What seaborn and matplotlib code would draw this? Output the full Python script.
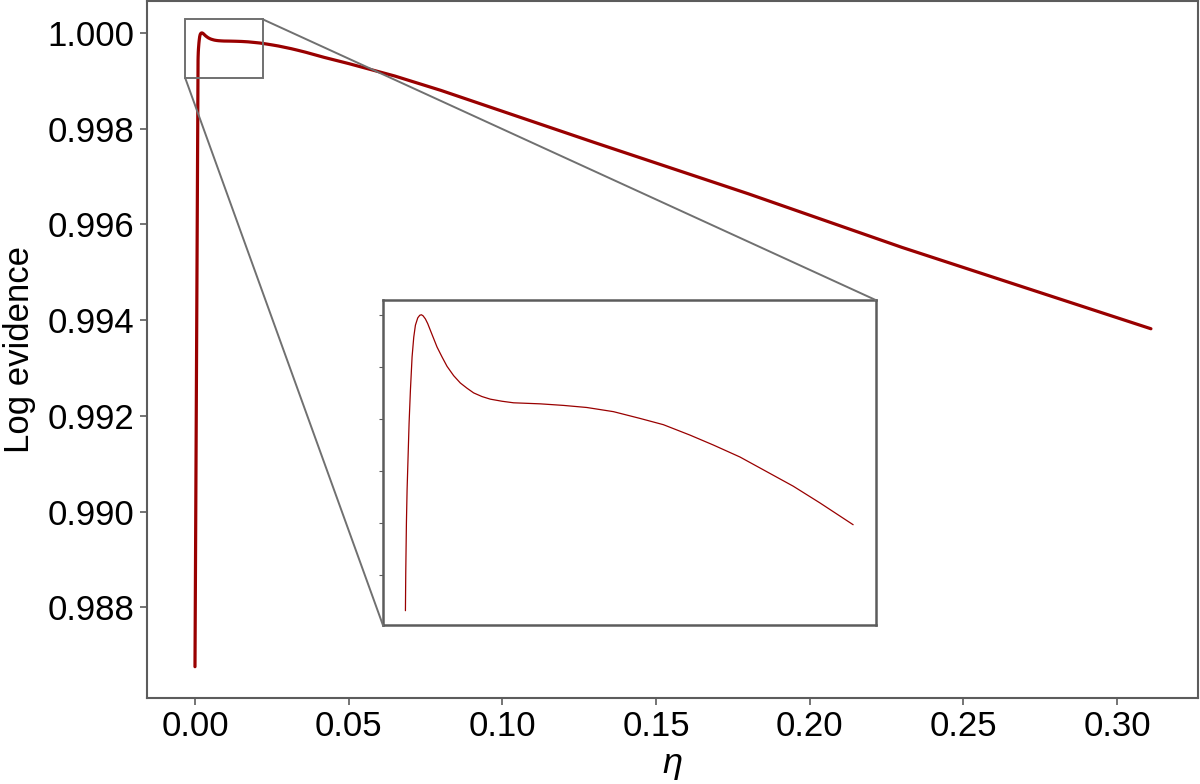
import numpy as np
import pandas as pd
import matplotlib
matplotlib.use('Agg')
import matplotlib.pyplot as plt
import seaborn as sns
from matplotlib.patches import Rectangle, ConnectionPatch
from matplotlib.ticker import MultipleLocator

# curve (dense near the peak, sparse on the straight tail)
eta = [0.0, 0.001000, 0.001026, 0.001078, 0.001130, 0.001208, 0.001286, 0.001390,
       0.001520, 0.001651, 0.001781, 0.001963, 0.002119, 0.002249, 0.002379,
       0.002561, 0.002743, 0.002952, 0.003212, 0.003472, 0.003862, 0.004253,
       0.004773, 0.005293, 0.005814, 0.006334, 0.006985, 0.007635, 0.008546,
       0.009457, 0.010497, 0.011538, 0.013360, 0.015181, 0.017263, 0.019344,
       0.021166, 0.023247, 0.025069, 0.027150, 0.029232, 0.031313, 0.033395,
       0.036000,
       0.042, 0.05, 0.065, 0.08, 0.13, 0.18, 0.23, 0.27, 0.311]
log_evidence = [0.98676, 0.999432, 0.999505, 0.999601, 0.999664, 0.999728, 0.999792, 0.999855,
                0.999919, 0.999957, 0.999980, 0.999994, 0.999999, 1.000000, 0.999998,
                0.999992, 0.999983, 0.999970, 0.999954, 0.999938, 0.999919, 0.999901,
                0.999883, 0.999869, 0.999859, 0.999850, 0.999843, 0.999838, 0.999834,
                0.999831, 0.999830, 0.999829, 0.999826, 0.999822, 0.999814, 0.999801,
                0.999789, 0.999769, 0.999750, 0.999727, 0.999699, 0.999671, 0.999639,
                0.999597,
                0.99949, 0.99936, 0.99910, 0.99880, 0.99771, 0.99664, 0.99552, 0.99468, 0.99382]

# inset shows the points up to eta = 0.036 (the very first point is left out)
inset_first, inset_last = 1, 44

# zoom box drawn on the main axes
box_x = [-0.00315, 0.0220]
box_y = [0.999054, 1.000286]

df = pd.DataFrame({'eta': eta, 'log_evidence': log_evidence})
df_inset = df.iloc[inset_first:inset_last]

sns.set_style('white')
plt.rcParams['font.family'] = ['Liberation Sans', 'DejaVu Sans']
plt.rcParams['text.color'] = 'black'
plt.rcParams['axes.labelcolor'] = 'black'

line_color = '#990000'
frame_color = '#5c5c5c'
box_color = '#707070'

fig = plt.figure(figsize=(12, 7.84), dpi=100)
ax = fig.add_axes([0.1225, 0.1097, 0.8758, 0.8887])

sns.lineplot(data=df, x='eta', y='log_evidence', ax=ax, color=line_color, linewidth=2.3,
             sort=False, estimator=None)

ax.set_xlim(-0.01561, 0.3263)
ax.set_ylim(0.986106, 1.000662)
ax.set_xticks([0.0, 0.05, 0.10, 0.15, 0.20, 0.25, 0.30])
ax.set_xticklabels(['0.00', '0.05', '0.10', '0.15', '0.20', '0.25', '0.30'])
ax.set_yticks([0.988, 0.990, 0.992, 0.994, 0.996, 0.998, 1.000])
ax.set_yticklabels(['0.988', '0.990', '0.992', '0.994', '0.996', '0.998', '1.000'])
ax.tick_params(axis='both', labelsize=25, length=5, width=1.2, color=frame_color,
               labelcolor='black', direction='out', left=True, bottom=True, pad=4)
ax.set_xlabel('η', fontsize=26, style='italic', labelpad=2)
ax.set_ylabel('Log evidence', fontsize=25, labelpad=8)
for sp in ax.spines.values():
    sp.set_color(frame_color)
    sp.set_linewidth(1.5)

# zoom box
ax.add_patch(Rectangle((box_x[0], box_y[0]), box_x[1] - box_x[0], box_y[1] - box_y[0],
                       fill=False, edgecolor=box_color, linewidth=1.4, zorder=3))

# inset
axins = fig.add_axes([0.3192, 0.2022, 0.4104, 0.4152])
sns.lineplot(data=df_inset, x='eta', y='log_evidence', ax=axins, color=line_color,
             linewidth=0.9, sort=False, estimator=None)
axins.set_xlabel('')
axins.set_ylabel('')
axins.yaxis.set_major_locator(MultipleLocator(0.0001))
axins.set_xticks([])
axins.tick_params(axis='y', left=True, length=3, width=0.8, color=frame_color,
                  labelleft=False, direction='out')
for sp in axins.spines.values():
    sp.set_color(frame_color)
    sp.set_linewidth(1.8)

# connector lines from the box to the inset corners
for xy_main, xy_ins in [((box_x[1], box_y[1]), (1, 1)), ((box_x[0], box_y[0]), (0, 0))]:
    con = ConnectionPatch(xyA=xy_main, coordsA=ax.transData, xyB=xy_ins,
                          coordsB=axins.transAxes, color=box_color, linewidth=1.4)
    fig.add_artist(con)

fig.savefig('out.png', dpi=100)
